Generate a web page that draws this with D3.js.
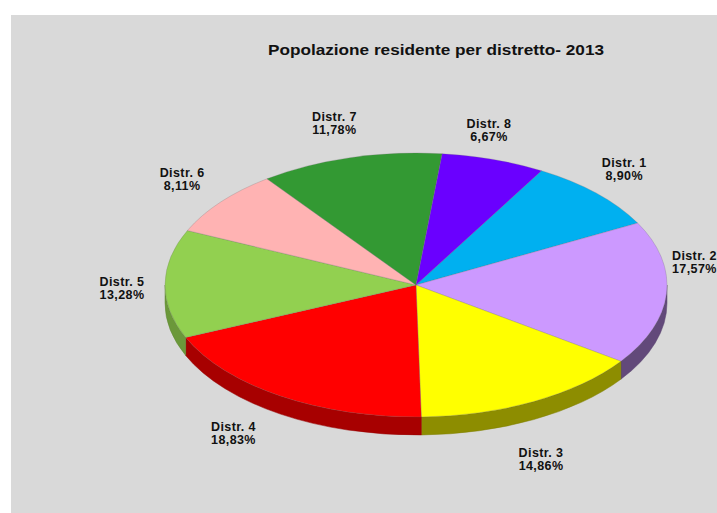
<!DOCTYPE html>
<html>
<head>
<meta charset="utf-8">
<script src="https://cdn.jsdelivr.net/npm/d3@7/dist/d3.min.js"></script>
<style>
  html, body { margin: 0; padding: 0; background: #ffffff; }
  svg { display: block; }
  text { font-family: "Liberation Sans", Arial, sans-serif; font-weight: bold; fill: #111; }
</style>
</head>
<body>
<svg id="chart" width="717" height="513"></svg>
<script>
// Resident population share by district, 2013
const districts = ["Distr. 1", "Distr. 2", "Distr. 3", "Distr. 4", "Distr. 5", "Distr. 6", "Distr. 7", "Distr. 8"];
const shares = [8.90, 17.57, 14.86, 18.83, 13.28, 8.11, 11.78, 6.67];
const sliceColors = ["#00b0f0", "#cc99ff", "#ffff00", "#ff0000", "#92d050", "#ffb3b3", "#339933", "#6a00ff"];
const chartTitle = "Popolazione residente per distretto- 2013";

// layout
const W = 717, H = 513;
const cx = 416, cy = 285;          // centre of the top face
const rx = 251, ry = 132;          // ellipse radii of the top face
const depth = 18;                  // thickness of the disc
const k = ry / rx;                 // vertical squash
const rotation = 30 * Math.PI / 180;
const labelRx = 288, labelRy = 166;
// small hand adjustments for label boxes (dx, dy)
const labelNudge = [[1, -1], [-9, -35], [-10, 11], [-27, -7], [-6, 4], [-10, -2], [-6, -2], [-16, 3]];

const svg = d3.select("#chart");

// grey chart panel
svg.append("rect").attr("x", 0).attr("y", 0).attr("width", W).attr("height", H).attr("fill", "#ffffff");
svg.append("rect").attr("x", 11).attr("y", 15).attr("width", W - 11).attr("height", H - 15).attr("fill", "#d9d9d9");

svg.append("text")
  .attr("x", 436).attr("y", 55)
  .attr("text-anchor", "middle")
  .attr("font-size", 15)
  .attr("textLength", 336)
  .attr("lengthAdjust", "spacingAndGlyphs")
  .text(chartTitle);

const data = districts.map((d, i) => ({ name: d, value: shares[i], color: sliceColors[i] }));

const pie = d3.pie()
  .value(d => d.value)
  .sort(null)
  .startAngle(rotation)
  .endAngle(rotation + 2 * Math.PI);
const arcs = pie(data);

const disc = svg.append("g").attr("transform", `translate(${cx},${cy}) scale(1,${k})`);

// side wall: only the front half (angles between 90° and 270°) is visible
const D = depth / k;
const front = [[Math.PI / 2, 1.5 * Math.PI], [2.5 * Math.PI, 3.5 * Math.PI]];
function sidePath(a0, a1) {
  const p = d3.path();
  const m0 = a0 - Math.PI / 2, m1 = a1 - Math.PI / 2;
  p.moveTo(rx * Math.cos(m0), rx * Math.sin(m0));
  p.arc(0, 0, rx, m0, m1, false);
  p.lineTo(rx * Math.cos(m1), rx * Math.sin(m1) + D);
  p.arc(0, D, rx, m1, m0, true);
  p.closePath();
  return p.toString();
}
// light comes from the left: walls facing right are darker
function shade(color, a) {
  const t = ((a % (2 * Math.PI)) - Math.PI / 2) / Math.PI;   // 0 at right, 1 at left
  const f = 0.45 + 0.3 * Math.max(0, Math.min(1, t));
  const c = d3.rgb(color);
  return d3.rgb(c.r * f, c.g * f, c.b * f);
}
const sides = [];
arcs.forEach(a => {
  front.forEach(([lo, hi]) => {
    const s = Math.max(a.startAngle, lo), e = Math.min(a.endAngle, hi);
    if (e > s) sides.push({ s, e, color: a.data.color });
  });
});
disc.selectAll("path.side")
  .data(sides)
  .join("path")
  .attr("class", "side")
  .attr("d", d => sidePath(d.s, d.e))
  .attr("fill", d => shade(d.color, (d.s + d.e) / 2))
  .attr("stroke", d => shade(d.color, (d.s + d.e) / 2).darker(0.3))
  .attr("stroke-width", 0.5)
  .attr("vector-effect", "non-scaling-stroke");

// top face
const arcGen = d3.arc().innerRadius(0).outerRadius(rx);
disc.selectAll("path.slice")
  .data(arcs)
  .join("path")
  .attr("class", "slice")
  .attr("d", arcGen)
  .attr("fill", d => d.data.color)
  .attr("stroke", "#6b6b6b")
  .attr("stroke-opacity", 0.35)
  .attr("stroke-width", 0.7)
  .attr("vector-effect", "non-scaling-stroke");

// labels: name and percentage outside each slice
const fmt = v => d3.format(".2f")(v).replace(".", ",") + "%";
const labels = svg.append("g");
arcs.forEach((a, i) => {
  const m = (a.startAngle + a.endAngle) / 2;
  const c = Math.cos(m), s = Math.sin(m);
  const x = cx + labelRx * s + labelNudge[i][0];
  const yc = cy - labelRy * c + depth * Math.max(0, -c) + labelNudge[i][1];
  const b1 = yc - 2;
  const t = labels.append("text")
    .attr("text-anchor", "middle")
    .attr("font-size", 12.5)
    .attr("letter-spacing", 0.4);
  t.append("tspan").attr("x", x).attr("y", b1).text(a.data.name);
  t.append("tspan").attr("x", x).attr("y", b1 + 13).text(fmt(a.data.value));
});
</script>
</body>
</html>
